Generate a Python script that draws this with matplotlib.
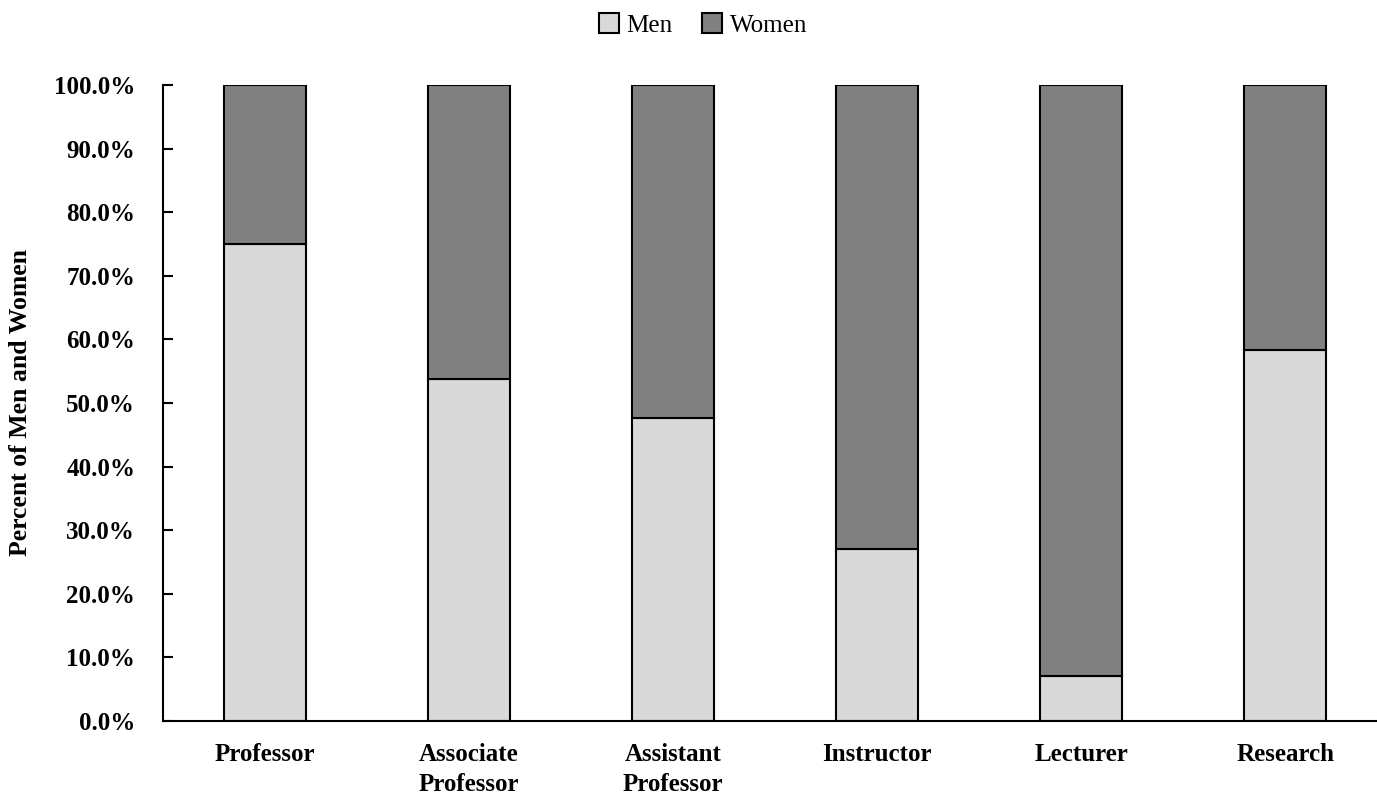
import numpy as np
import matplotlib.pyplot as plt
from matplotlib.ticker import PercentFormatter

categories = ['Professor', 'Associate\nProfessor', 'Assistant\nProfessor',
              'Instructor', 'Lecturer', 'Research']
men = [75.0, 53.8, 47.7, 27.0, 7.0, 58.4]
women = [100 - m for m in men]

plt.rcParams['font.family'] = ['Liberation Serif', 'DejaVu Serif']

fig = plt.figure(figsize=(13.77, 8.07), dpi=100)
ax = fig.add_axes([163/1377, 1 - 721/807, 1 - 163/1377, (721 - 85)/807])

x = np.arange(len(categories))
ax.bar(x, men, 0.4, color='#d9d9d9', edgecolor='black', lw=1.5, label='Men')
ax.bar(x, women, 0.4, bottom=men, color='#808080', edgecolor='black', lw=1.5, label='Women')

ax.set_xlim(-0.5, 5.45)
ax.set_ylim(0, 100)
ax.set_yticks(np.arange(0, 101, 10))
ax.yaxis.set_major_formatter(PercentFormatter(decimals=1))
ax.set_xticks(x)
ax.set_xticklabels(categories, fontsize=18, fontweight='bold', linespacing=1.35, va='top')
ax.tick_params(axis='x', length=0, pad=16)
ax.tick_params(axis='y', direction='in', length=7, width=1.5, labelsize=18, pad=20)
for t in ax.get_yticklabels():
    t.set_fontweight('bold')
ax.spines['top'].set_visible(False)
ax.spines['right'].set_visible(False)
ax.spines['left'].set_linewidth(1.5)
ax.spines['bottom'].set_linewidth(1.5)
ax.set_ylabel('Percent of Men and Women', fontsize=18.5, fontweight='bold', labelpad=16)

fig.legend(*ax.get_legend_handles_labels(), loc='center', bbox_to_anchor=(703/1377, 1 - 25/807),
           ncol=2, frameon=False, fontsize=18, handlelength=0.8, handleheight=0.8,
           handletextpad=0.3, columnspacing=1.2)

fig.savefig('out.png', dpi=100)
